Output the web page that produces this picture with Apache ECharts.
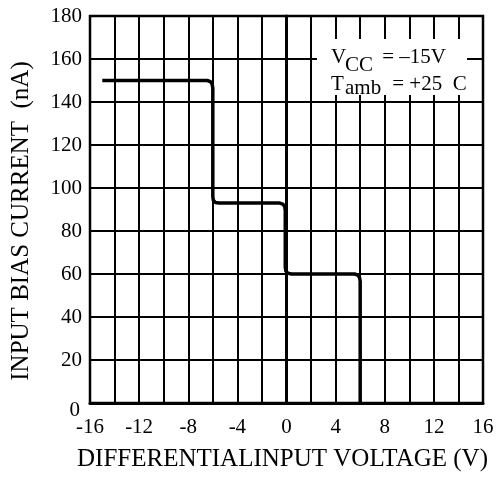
<!DOCTYPE html>
<html>
<head>
<meta charset="utf-8">
<style>html,body{margin:0;padding:0;background:#fff;}#c{width:497px;height:477px;}</style>
<script src="https://cdn.jsdelivr.net/npm/echarts@6/dist/echarts.min.js"></script>
</head>
<body>
<div id="c"></div>
<script>
// Data
var curveX = [-15, -6.45, -6.2, -6.06, -6.0, -6.0, -5.96, -5.8, -5.5, -0.55, -0.3, -0.15, -0.1, -0.1, -0.05, 0.1, 0.4, 5.55, 5.8, 5.95, 6.0, 6.0];
var curveY = [150, 150, 149.5, 148.4, 146.5, 96, 94.3, 93.3, 93, 93, 92.5, 91.5, 89.5, 63, 61.4, 60.4, 60, 60, 59.5, 58.4, 56.5, 0];
var xTickLabels = [-16, -12, -8, -4, 0, 4, 8, 12, 16];
var yTickLabels = [0, 20, 40, 60, 80, 100, 120, 140, 160, 180];
var xName = 'DIFFERENTIALINPUT VOLTAGE (V)';
var yName = 'INPUT BIAS CURRENT  (nA)';

var FONT = '"Liberation Serif", "Times New Roman", serif';
var chart = echarts.init(document.getElementById('c'), null, {renderer: 'canvas'});
var pts = curveX.map(function (x, i) { return [x, curveY[i]]; });
function txt(t, x, y) {
  return {type: 'text', z: 101, x: x, y: y, style: {text: t, font: '21px ' + FONT, fill: '#000', verticalAlign: 'top'}};
}
chart.setOption({
  animation: false,
  backgroundColor: '#fff',
  grid: {left: 90, top: 16, width: 393, height: 393, show: true, borderColor: '#000', borderWidth: 2.5},
  xAxis: {
    type: 'value', min: -16, max: 16, interval: 2,
    name: xName, nameLocation: 'middle', nameGap: 44,
    nameTextStyle: {fontFamily: FONT, fontSize: 25, color: '#000', padding: [0, 8, 0, 0]},
    axisLine: {show: true, onZero: false, lineStyle: {color: '#000', width: 3}},
    axisTick: {show: false},
    axisLabel: {margin: 14, fontFamily: FONT, fontSize: 21, color: '#000',
      formatter: function (v) { return xTickLabels.indexOf(v) >= 0 ? String(v) : ''; }},
    splitLine: {show: true, lineStyle: {color: '#000', width: 2}}
  },
  yAxis: {
    type: 'value', min: 0, max: 180, interval: 20,
    name: yName, nameLocation: 'middle', nameGap: 56,
    nameTextStyle: {fontFamily: FONT, fontSize: 25, color: '#000', padding: [0, 23, 0, 0]},
    axisLine: {show: true, lineStyle: {color: '#000', width: 3}},
    axisTick: {show: false},
    axisLabel: {margin: 8, fontFamily: FONT, fontSize: 21, color: '#000',
      formatter: function (v) {
        if (yTickLabels.indexOf(v) < 0) return '';
        return v === 0 ? '{z|0}' : String(v);
      },
      rich: {z: {fontFamily: FONT, fontSize: 21, color: '#000', padding: [14, 2, 0, 0]}}},
    splitLine: {show: true, lineStyle: {color: '#000', width: 2}}
  },
  series: [{
    type: 'line', data: pts, showSymbol: false, symbol: 'none',
    lineStyle: {color: '#000', width: 3.5}, z: 5
  }],
  graphic: [
    {type: 'rect', z: 100, shape: {x: 317, y: 39, width: 150, height: 56}, style: {fill: '#fff'}},
    txt('V', 331, 47),
    txt('CC', 345, 55),
    txt(' = \u201315V', 377, 47),
    txt('T', 331, 74),
    txt('amb', 345, 78),
    txt(' = +25  C', 387, 74)
  ]
});
</script>
</body>
</html>
